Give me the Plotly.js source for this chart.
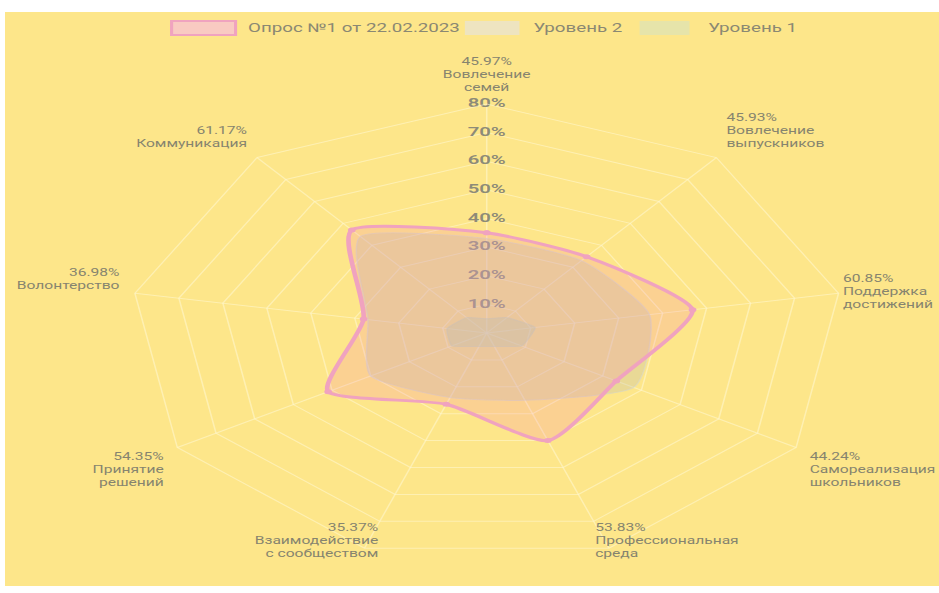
<!DOCTYPE html>
<html>
<head>
<meta charset="utf-8">
<script src="https://cdn.plot.ly/plotly-3.0.1.min.js"></script>
<style>
  html, body { margin: 0; padding: 0; background: #ffffff; }
  #wrap { position: relative; width: 939px; height: 593px; overflow: hidden; background: #ffffff; }
  #bg { position: absolute; left: 5px; top: 12px; right: 0; bottom: 7px; background: #FDE68A; }
  #chart { position: absolute; left: 0; top: 0; width: 602px; height: 593px; transform: scaleX(1.56); transform-origin: 0 0; }
</style>
</head>
<body>
<div id="wrap"><div id="bg"></div><div id="chart"></div></div>
<script>
// ---- data ----
const categories = ['Вовлечение семей', 'Вовлечение выпускников', 'Поддержка достижений', 'Самореализация школьников', 'Профессиональная среда', 'Взаимодействие с сообществом', 'Принятие решений', 'Волонтерство', 'Коммуникация'];
const categoryLabels = ['45.97%<br>Вовлечение<br>семей', '45.93%<br>Вовлечение<br>выпускников', '60.85%<br>Поддержка<br>достижений', '44.24%<br>Самореализация<br>школьников', '53.83%<br>Профессиональная<br>среда', '35.37%<br>Взаимодействие<br>с сообществом', '54.35%<br>Принятие<br>решений', '36.98%<br>Волонтерство', '61.17%<br>Коммуникация'];
const seriesNames = ['Опрос №1 от 22.02.2023', 'Уровень 2', 'Уровень 1'];
const survey = [35.0, 34.8, 46.8, 33.5, 40.0, 26.5, 41.0, 28.0, 47.0];
const level2 = [33, 33, 37, 38, 25, 24, 30, 27, 44];
const level1 = [5, 7, 11, 9, 5, 5, 9, 9, 7];
const tickValues = [10, 20, 30, 40, 50, 60, 70, 80];
const tickLabels = ['10%', '20%', '30%', '40%', '50%', '60%', '70%', '80%'];

// ---- presentation (label placement around the web) ----
const R_MAX = 80, R_OUTER = 88;
const LABEL_R = 83.5, LABEL_R_SIDE = 81, LABEL_R_BOTTOM = 71;
const labelRadius = [LABEL_R, LABEL_R, LABEL_R_SIDE, LABEL_R, LABEL_R_BOTTOM, LABEL_R_BOTTOM, LABEL_R, LABEL_R, LABEL_R];
const labelAnchor = ['top center', 'top right', 'middle right', 'bottom right', 'bottom right', 'bottom left', 'bottom left', 'top left', 'top left'];

const close = a => a.concat([a[0]]);
const FONT = 'Roboto, "Open Sans", sans-serif';
const GRID = 'rgba(255,246,205,0.6)';

const traces = [
  {
    type: 'scatterpolar', mode: 'text',
    r: tickValues, theta: tickValues.map(() => categories[0]),
    text: tickLabels, textposition: 'middle center',
    textfont: { family: FONT, size: 13, color: '#8d8b78', weight: 600 },
    hoverinfo: 'skip', showlegend: false
  },
  {
    type: 'scatterpolar', name: seriesNames[2],
    r: close(level1), theta: close(categories),
    mode: 'lines', fill: 'toself',
    fillcolor: 'rgba(185,215,170,0.4)',
    line: { color: 'rgba(205,220,180,0.6)', width: 1, shape: 'spline', smoothing: 0.4 },
    hoverinfo: 'skip', showlegend: false
  },
  {
    type: 'scatterpolar', name: seriesNames[1],
    r: close(level2), theta: close(categories),
    mode: 'lines', fill: 'toself',
    fillcolor: 'rgba(190,190,180,0.3)',
    line: { color: 'rgba(215,215,200,0.6)', width: 1, shape: 'spline', smoothing: 0.6 },
    hoverinfo: 'skip', showlegend: false
  },
  {
    type: 'scatterpolar', name: seriesNames[0],
    r: close(survey), theta: close(categories),
    mode: 'lines+markers', fill: 'toself',
    fillcolor: 'rgba(244,114,182,0.18)',
    line: { color: '#F0A3BF', width: 3, shape: 'spline', smoothing: 0.6 },
    marker: { color: '#F0A3BF', size: 5 },
    hoverinfo: 'skip', showlegend: false
  },
  {
    type: 'scatterpolar', subplot: 'polar2', mode: 'text',
    r: labelRadius, theta: categories,
    text: categoryLabels, textposition: labelAnchor,
    textfont: { family: FONT, size: 10, color: '#86846f' },
    cliponaxis: false,
    hoverinfo: 'skip', showlegend: false
  }
];

const W = 602, H = 593;
const CX = 312, CY = 333, RAD = 229;          // web centre and outer radius (px, unstretched frame)
const RAD2 = RAD * R_OUTER / R_MAX;
const px = v => v / W, py = v => 1 - v / H;
const legendItems = [
  { x0: 110, x1: 151, tx: 157, fill: 'rgba(248,198,200,0.9)', line: '#F0A3BF', lw: 2, text: seriesNames[0] },
  { x0: 298, x1: 333, tx: 340, fill: 'rgba(238,228,192,1)', line: 'rgba(238,228,192,1)', lw: 0, text: seriesNames[1] },
  { x0: 410, x1: 442, tx: 452, fill: 'rgba(230,228,170,1)', line: 'rgba(230,228,170,1)', lw: 0, text: seriesNames[2] }
];
const shapes = legendItems.map(it => ({
  type: 'rect', xref: 'paper', yref: 'paper',
  x0: px(it.x0), x1: px(it.x1), y0: py(35), y1: py(21),
  fillcolor: it.fill, line: { color: it.line, width: it.lw }
}));
const annotations = legendItems.map(it => ({
  xref: 'paper', yref: 'paper', x: px(it.tx), y: py(28),
  xanchor: 'left', yanchor: 'middle', showarrow: false,
  text: it.text, font: { family: FONT, size: 12, color: '#8a8873' }
}));

const angularBase = {
  type: 'category', categoryorder: 'array', categoryarray: categories,
  direction: 'clockwise', rotation: 90
};

const layout = {
  width: W, height: H,
  margin: { l: 0, r: 0, t: 0, b: 0 },
  paper_bgcolor: 'rgba(0,0,0,0)',
  plot_bgcolor: 'rgba(0,0,0,0)',
  showlegend: false,
  shapes: shapes,
  annotations: annotations,
  polar: {
    domain: { x: [px(CX - RAD), px(CX + RAD)], y: [py(CY + RAD), py(CY - RAD)] },
    bgcolor: 'rgba(0,0,0,0)',
    gridshape: 'linear',
    radialaxis: {
      range: [0, R_MAX], tickmode: 'array', tickvals: tickValues,
      showticklabels: false, ticks: '', showline: false,
      gridcolor: GRID, gridwidth: 1
    },
    angularaxis: Object.assign({}, angularBase, {
      showticklabels: false, ticks: '', showline: true,
      linecolor: GRID, linewidth: 1,
      gridcolor: GRID, gridwidth: 1
    })
  },
  polar2: {
    domain: { x: [px(CX - RAD2), px(CX + RAD2)], y: [py(CY + RAD2), py(CY - RAD2)] },
    bgcolor: 'rgba(0,0,0,0)',
    gridshape: 'linear',
    radialaxis: { range: [0, R_OUTER], visible: false, showgrid: false },
    angularaxis: Object.assign({}, angularBase, {
      visible: false, showgrid: false, showline: false, showticklabels: false, ticks: ''
    })
  }
};

Plotly.newPlot('chart', traces, layout, { staticPlot: true, displayModeBar: false });
</script>
</body>
</html>
